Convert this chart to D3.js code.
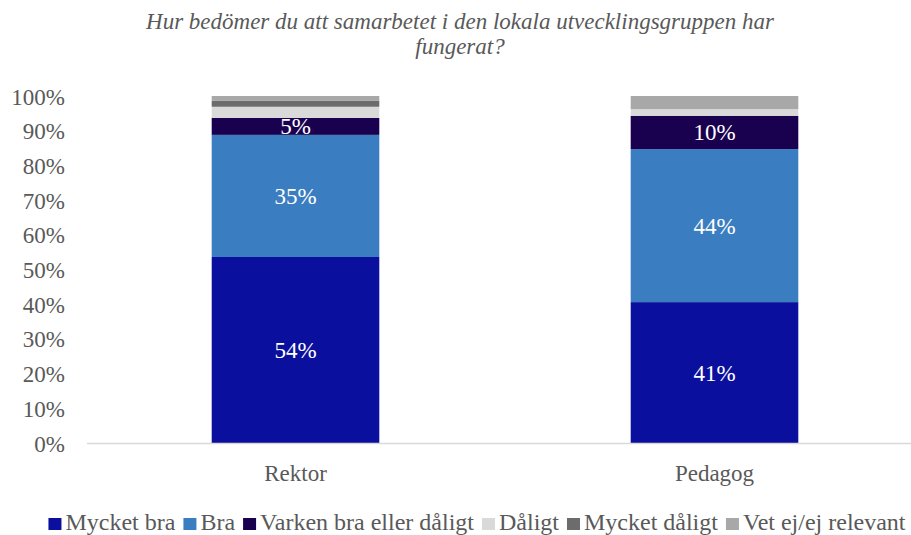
<!DOCTYPE html>
<html>
<head>
<meta charset="utf-8">
<script src="https://cdn.jsdelivr.net/npm/d3@7"></script>
<style>
  body { margin: 0; background: #fff; }
  svg text { font-family: 'Liberation Serif', 'Times New Roman', serif; }
</style>
</head>
<body>
<svg id="chart" width="911" height="535"></svg>
<script>
// chart data
var categories = ["Rektor", "Pedagog"];
var seriesNames = ["Mycket bra", "Bra", "Varken bra eller dåligt", "Dåligt", "Mycket dåligt", "Vet ej/ej relevant"];
var seriesColors = ["#0b0f9e", "#3a7ec1", "#1a0150", "#d9d9d9", "#6c6c6c", "#a8a8a8"];
var rektorValues = [53.6, 35.2, 4.9, 3.2, 1.8, 1.3];
var pedagogValues = [40.6, 44.1, 9.6, 1.9, 0, 3.8];
var labelledSeries = ["Mycket bra", "Bra", "Varken bra eller dåligt"];
var yTicks = [0, 10, 20, 30, 40, 50, 60, 70, 80, 90, 100];
var titleLines = ["Hur bedömer du att samarbetet i den lokala utvecklingsgruppen har", "fungerat?"];

var svg = d3.select("#chart");
var textColor = "#595959";
var font = "'Liberation Serif', 'Times New Roman', serif";
var fs = "23px";

var x = d3.scaleBand().domain(categories).range([86, 924]).paddingInner(0.6).paddingOuter(0.3);
var y = d3.scaleLinear().domain([0, 100]).range([443, 96]);

// rows for the stack
var rows = categories.map(function (c, i) {
  var vals = i === 0 ? rektorValues : pedagogValues;
  var row = { cat: c };
  seriesNames.forEach(function (s, j) { row[s] = vals[j]; });
  return row;
});
var stacked = d3.stack().keys(seriesNames)(rows);

// title
svg.append("g").selectAll("text")
  .data(titleLines)
  .enter().append("text")
  .attr("x", 460)
  .attr("y", function (d, i) { return 29 + i * 25; })
  .attr("text-anchor", "middle")
  .attr("font-style", "italic")
  .attr("font-size", fs)
  .attr("fill", textColor)
  .text(function (d) { return d; });

// y axis (labels only)
var yAxis = svg.append("g")
  .attr("transform", "translate(68,0)")
  .call(d3.axisLeft(y).tickValues(yTicks).tickSize(0).tickFormat(function (d) { return d + "%"; }));
yAxis.attr("font-family", font).attr("font-size", fs);
yAxis.select(".domain").remove();
yAxis.selectAll("text")
  .attr("fill", textColor)
  .attr("dy", "0.35em");

// bars
var layer = svg.append("g").selectAll("g")
  .data(stacked)
  .enter().append("g")
  .attr("fill", function (d, i) { return seriesColors[i]; });

layer.selectAll("rect")
  .data(function (d) { return d; })
  .enter().append("rect")
  .attr("x", function (d) { return x(d.data.cat); })
  .attr("y", function (d) { return y(d[1]); })
  .attr("width", x.bandwidth())
  .attr("height", function (d) { return y(d[0]) - y(d[1]); });

// value labels
var labelLayers = stacked.filter(function (s) { return labelledSeries.indexOf(s.key) >= 0; });
svg.append("g").selectAll("g")
  .data(labelLayers)
  .enter().append("g")
  .selectAll("text")
  .data(function (d) { return d; })
  .enter().append("text")
  .attr("x", function (d) { return x(d.data.cat) + x.bandwidth() / 2; })
  .attr("y", function (d) { return (y(d[0]) + y(d[1])) / 2; })
  .attr("dy", "0.35em")
  .attr("text-anchor", "middle")
  .attr("font-size", fs)
  .attr("fill", "#ffffff")
  .text(function (d) { return Math.round(d[1] - d[0]) + "%"; });

// baseline
svg.append("line")
  .attr("x1", 87).attr("x2", 911)
  .attr("y1", y(0) + 0.5).attr("y2", y(0) + 0.5)
  .attr("stroke", "#d9d9d9")
  .attr("stroke-width", 1.5);

// x labels
svg.append("g").selectAll("text")
  .data(categories)
  .enter().append("text")
  .attr("x", function (d) { return x(d) + x.bandwidth() / 2; })
  .attr("y", 481)
  .attr("text-anchor", "middle")
  .attr("font-size", fs)
  .attr("fill", textColor)
  .text(function (d) { return d; });

// legend
var legend = svg.append("g");
var lx = 0;
seriesNames.forEach(function (s, i) {
  var item = legend.append("g").attr("transform", "translate(" + lx + ",0)");
  item.append("rect").attr("x", 0).attr("y", -12).attr("width", 13).attr("height", 12).attr("fill", seriesColors[i]);
  var t = item.append("text").attr("x", 17).attr("y", 0).attr("font-size", "24px").attr("fill", textColor).text(s);
  lx += 17 + t.node().getComputedTextLength() + 8;
});
var legendWidth = lx - 8;
legend.attr("transform", "translate(" + (477 - legendWidth / 2) + ",530)");
</script>
</body>
</html>
